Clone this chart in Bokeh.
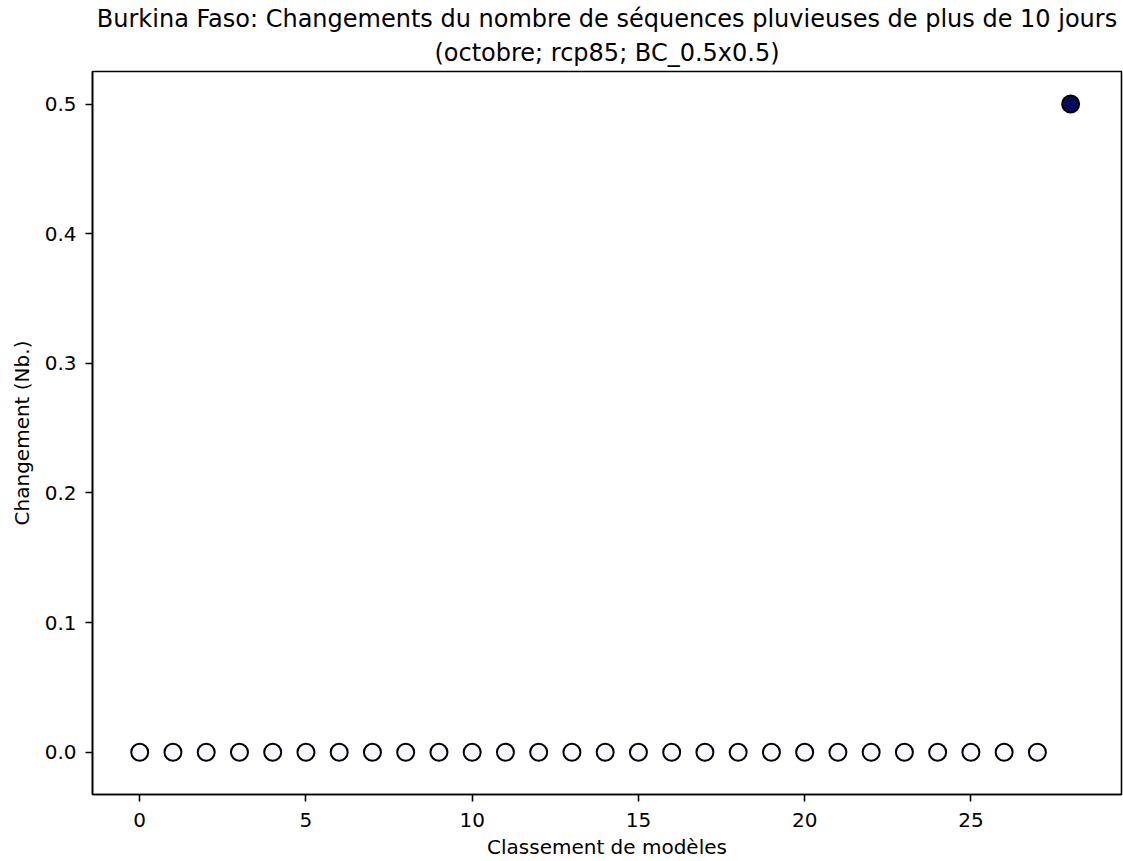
from bokeh.plotting import figure
from bokeh.models import Range1d, Title, FixedTicker, ColumnDataSource
from bokeh.embed import file_html
from bokeh.resources import INLINE

# Data
ranks = list(range(29))
changes = [0.0] * 28 + [0.5]
fill_colors = ["#f7f8fd"] * 28 + ["#050a5c"]

x_ticks = [0, 5, 10, 15, 20, 25]
y_ticks = [0.0, 0.1, 0.2, 0.3, 0.4, 0.5]
title_line1 = "Burkina Faso: Changements du nombre de séquences pluvieuses de plus de 10 jours"
title_line2 = "(octobre; rcp85; BC_0.5x0.5)"
x_label = "Classement de modèles"
y_label = "Changement (Nb.)"

FONT = "DejaVu Sans"

p = figure(width=1123, height=861, output_backend="svg", toolbar_location=None,
           x_range=Range1d(-1.42, 29.53), y_range=Range1d(-0.0326, 0.5251),
           min_border_left=92, min_border_right=2, min_border_bottom=67, min_border_top=71)
p.title = None
t2 = Title(text=title_line2, align="center", text_font=FONT, text_font_size="24px",
           text_font_style="normal", text_color="black", standoff=9)
t1 = Title(text=title_line1, align="center", text_font=FONT, text_font_size="24px",
           text_font_style="normal", text_color="black", standoff=0)
p.add_layout(t2, "above")
p.add_layout(t1, "above")

src = ColumnDataSource(dict(x=ranks, y=changes, c=fill_colors))
p.scatter("x", "y", source=src, size=17, fill_color="c", line_color="black", line_width=2)

p.xgrid.visible = False
p.ygrid.visible = False
p.outline_line_color = "black"
p.outline_line_width = 1.6
p.outline_line_alpha = 1.0

for ax in (p.xaxis[0], p.yaxis[0]):
    ax.major_label_text_font = FONT
    ax.major_label_text_font_size = "20px"
    ax.major_label_text_color = "black"
    ax.axis_label_text_font = FONT
    ax.axis_label_text_font_size = "20px"
    ax.axis_label_text_font_style = "normal"
    ax.axis_label_text_color = "black"
    ax.minor_tick_line_color = None
    ax.major_tick_in = 0
    ax.major_tick_out = 7
    ax.major_tick_line_width = 1.6
    ax.major_tick_line_color = "black"
    ax.axis_line_color = "black"
    ax.axis_line_width = 1.6

p.xaxis.ticker = FixedTicker(ticks=x_ticks)
p.yaxis.ticker = FixedTicker(ticks=y_ticks)
p.yaxis.major_label_overrides = {v: f"{v:.1f}" for v in y_ticks}
p.xaxis.axis_label = x_label
p.yaxis.axis_label = y_label
p.xaxis.major_label_standoff = 11
p.yaxis.major_label_standoff = 9
p.xaxis.axis_label_standoff = 5
p.yaxis.axis_label_standoff = 8

open("out.html", "w").write(file_html(p, INLINE))
